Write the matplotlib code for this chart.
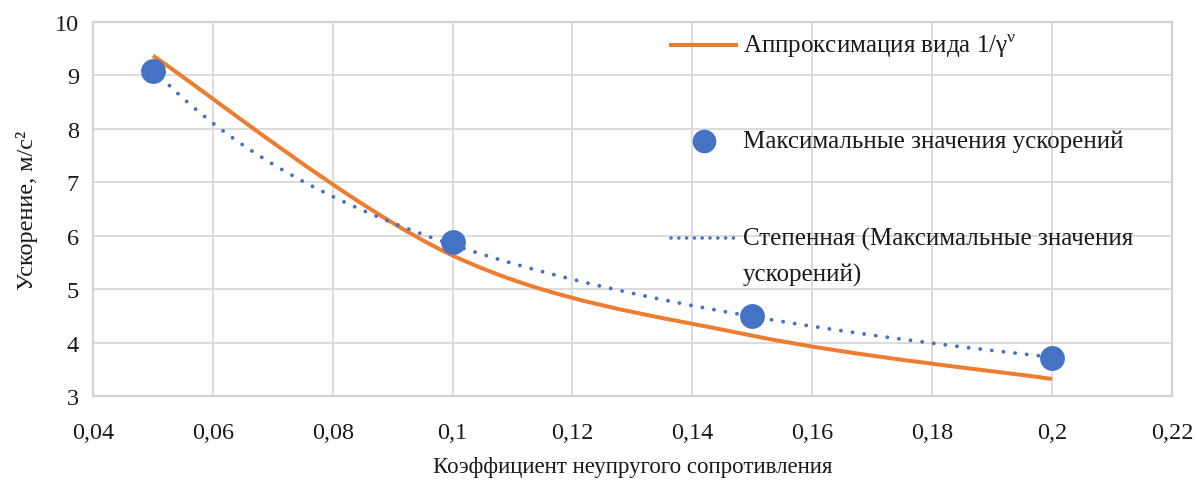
import numpy as np
import matplotlib
matplotlib.use("Agg")
import matplotlib.pyplot as plt
from matplotlib.lines import Line2D
from matplotlib.path import Path
from matplotlib.patches import PathPatch
from matplotlib.ticker import FixedLocator, FuncFormatter

# Measured maxima of acceleration vs. inelastic resistance coefficient
gamma = [0.05, 0.10, 0.15, 0.20]
accel_max = [9.08, 5.88, 4.49, 3.71]

# Approximation of the form 1/gamma^nu at the same coefficients
approx_y = [9.37, 5.63, 4.13, 3.32]

xticks = [0.04, 0.06, 0.08, 0.10, 0.12, 0.14, 0.16, 0.18, 0.20, 0.22]
yticks = [3, 4, 5, 6, 7, 8, 9, 10]

ORANGE = "#ED7D31"
BLUE = "#4472C4"
GRID = "#D9D9D9"
TEXT = "#1a1a1a"


def smooth_path(x, y):
    """Spreadsheet-style smoothed line: cubic Bezier through every point."""
    p = np.column_stack([x, y]).astype(float)
    n = len(p)
    verts, codes = [p[0]], [Path.MOVETO]
    for i in range(n - 1):
        prev = p[i - 1] if i > 0 else p[i]
        nxt = p[i + 2] if i + 2 < n else p[i + 1]
        c1 = p[i] + (p[i + 1] - prev) / 6
        c2 = p[i + 1] - (nxt - p[i]) / 6
        verts += [c1, c2, p[i + 1]]
        codes += [Path.CURVE4] * 3
    return Path(verts, codes)


plt.rcParams["font.family"] = ["Liberation Serif", "DejaVu Serif"]
plt.rcParams["mathtext.fontset"] = "custom"
plt.rcParams["mathtext.rm"] = "Liberation Serif"

fig = plt.figure(figsize=(11.98, 4.85), dpi=100)
ax = fig.add_axes([0.0776, 0.1814, 0.9006, 0.7712])

# power-law trendline fitted to the measured maxima
b, ln_a = np.polyfit(np.log(gamma), np.log(accel_max), 1)
tx = np.linspace(min(gamma), max(gamma), 200)
ty = np.exp(ln_a) * tx ** b

ax.add_patch(PathPatch(smooth_path(gamma, approx_y), fill=False,
                       edgecolor=ORANGE, lw=2.9, capstyle="butt", zorder=3))
ax.plot(tx, ty, color=BLUE, lw=2.8, dashes=(0.01, 3.0),
        dash_capstyle="round", zorder=4)
ax.scatter(gamma, accel_max, s=320, color=BLUE, zorder=5, linewidths=0)

ax.set_xlim(0.04, 0.22)
ax.set_ylim(3, 10)
ax.xaxis.set_major_locator(FixedLocator(xticks))
ax.yaxis.set_major_locator(FixedLocator(yticks))
ax.xaxis.set_major_formatter(FuncFormatter(lambda v, p: f"{round(v, 2):g}".replace(".", ",")))
ax.yaxis.set_major_formatter(FuncFormatter(lambda v, p: f"{v:g}"))
ax.tick_params(length=0, labelsize=17.5, colors=TEXT)
ax.tick_params(axis="x", pad=19)
ax.tick_params(axis="y", pad=10)
ax.grid(True, color=GRID, lw=1.3)
ax.set_axisbelow(True)
for s in ax.spines.values():
    s.set_color("#D3D3D3")
    s.set_linewidth(1.6)

ax.set_xlabel("Коэффициент неупругого сопротивления", fontsize=16.5, color=TEXT,
              labelpad=9)
ax.set_ylabel("Ускорение, м/с²", fontsize=17.5, color=TEXT, labelpad=12)

# legend drawn in axes coordinates
lx0, lx1, tx0 = 0.5357, 0.5959, 0.6024
ax.add_line(Line2D([lx0, lx1], [0.9385, 0.9385], transform=ax.transAxes,
                   color=ORANGE, lw=2.9, clip_on=False))
ax.text(tx0, 0.9385, "Аппроксимация вида 1/γ$^{\\mathrm{ν}}$", transform=ax.transAxes,
        fontsize=18, va="center", ha="left", color=TEXT)
ax.add_line(Line2D([0.5665], [0.6818], transform=ax.transAxes, marker="o",
                   markersize=17, color=BLUE, markeredgewidth=0, clip_on=False))
ax.text(tx0, 0.6818, "Максимальные значения ускорений", transform=ax.transAxes,
        fontsize=18, va="center", ha="left", color=TEXT)
ax.add_line(Line2D([lx0, lx1], [0.4225, 0.4225], transform=ax.transAxes,
                   color=BLUE, lw=2.6, dashes=(0.01, 2.15), dash_capstyle="round",
                   clip_on=False))
ax.text(tx0, 0.4225, "Степенная (Максимальные значения", transform=ax.transAxes,
        fontsize=18, va="center", ha="left", color=TEXT)
ax.text(tx0, 0.326, "ускорений)", transform=ax.transAxes,
        fontsize=18, va="center", ha="left", color=TEXT)

fig.savefig("out.png", dpi=100, facecolor="white")
